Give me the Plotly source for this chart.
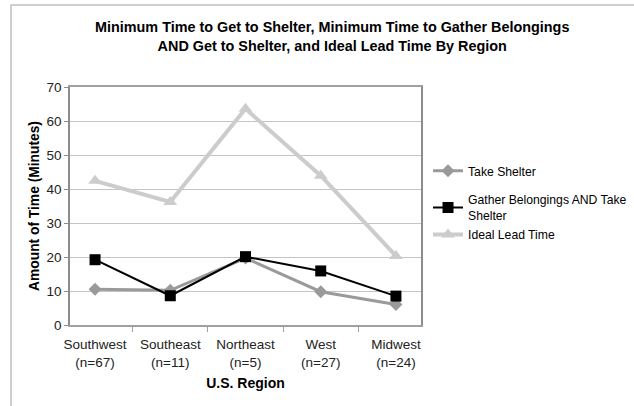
import plotly.graph_objects as go

regions = ["Southwest<br>(n=67)", "Southeast<br>(n=11)", "Northeast<br>(n=5)", "West<br>(n=27)", "Midwest<br>(n=24)"]
take_shelter = [10.5, 10.2, 19.7, 9.8, 6.0]
gather_and_shelter = [19.2, 8.6, 20.1, 15.9, 8.5]
ideal_lead = [42.4, 36.2, 63.6, 43.9, 20.3]
y_ticks = [0, 10, 20, 30, 40, 50, 60, 70]

FONT = "Liberation Sans, Arial, sans-serif"

fig = go.Figure()
fig.add_trace(go.Scatter(
    x=regions, y=take_shelter, name="Take Shelter", mode="lines+markers",
    legendgroup="a",
    line=dict(color="#9a9a9a", width=3),
    marker=dict(symbol="diamond", size=10, color="#9a9a9a"),
))
fig.add_trace(go.Scatter(
    x=regions, y=gather_and_shelter, name="Gather Belongings AND Take<br>Shelter", mode="lines+markers",
    legendgroup="b",
    line=dict(color="#000000", width=2),
    marker=dict(symbol="square", size=11, color="#000000"),
))
fig.add_trace(go.Scatter(
    x=regions, y=ideal_lead, name="Ideal Lead Time", mode="lines+markers",
    legendgroup="b",
    line=dict(color="#cccccc", width=4),
    marker=dict(symbol="triangle-up", size=12, color="#cccccc"),
))

fig.update_layout(
    width=634, height=406,
    margin=dict(l=70, r=213, t=87, b=81, autoexpand=False),
    paper_bgcolor="white", plot_bgcolor="white",
    font=dict(family=FONT, size=13.5, color="#222222"),
    title=dict(
        text="<b>Minimum Time to Get to Shelter, Minimum Time to Gather Belongings<br>AND Get to Shelter, and Ideal Lead Time By Region</b>",
        x=0.524, xanchor="center", y=0.92, yanchor="top",
        font=dict(family=FONT, size=14.4, color="#000000"),
    ),
    legend=dict(
        x=1.02, y=0.709, xanchor="left", yanchor="top",
        font=dict(family=FONT, size=12.2, color="#000000"),
        tracegroupgap=10, bgcolor="rgba(0,0,0,0)", borderwidth=0,
    ),
    showlegend=True,
    shapes=[dict(type="rect", xref="paper", yref="paper",
                 x0=-0.168, x1=1.7, y0=-0.5, y1=1.345,
                 line=dict(color="#c0c0c0", width=1.5), layer="below")],
)
fig.update_xaxes(
    automargin=False,
    title=dict(text="<b>U.S. Region</b>", font=dict(family=FONT, size=14, color="#000000"), standoff=10),
    showgrid=False, showline=True, linecolor="#a0a0a0", linewidth=1.5, mirror=True,
    ticks="outside", tickson="boundaries", ticklen=5, tickcolor="#a0a0a0",
    ticklabelstandoff=6, tickangle=0,
    tickfont=dict(family=FONT, size=13.5, color="#222222"),
)
fig.update_yaxes(
    automargin=False,
    title=dict(text="<b>Amount of Time (Minutes)</b>", font=dict(family=FONT, size=13.8, color="#000000"), standoff=4),
    range=[0, 70], tickvals=y_ticks, showgrid=True, gridcolor="#c4c4c4", gridwidth=1,
    showline=True, linecolor="#8c8c8c", linewidth=1.5, mirror=True,
    ticks="outside", ticklen=4, tickcolor="#8c8c8c", zeroline=False,
    tickfont=dict(family=FONT, size=13.5, color="#222222"),
)

fig.write_html("out.html", config={"displayModeBar": False},
               post_script="document.body.style.margin='0';")
